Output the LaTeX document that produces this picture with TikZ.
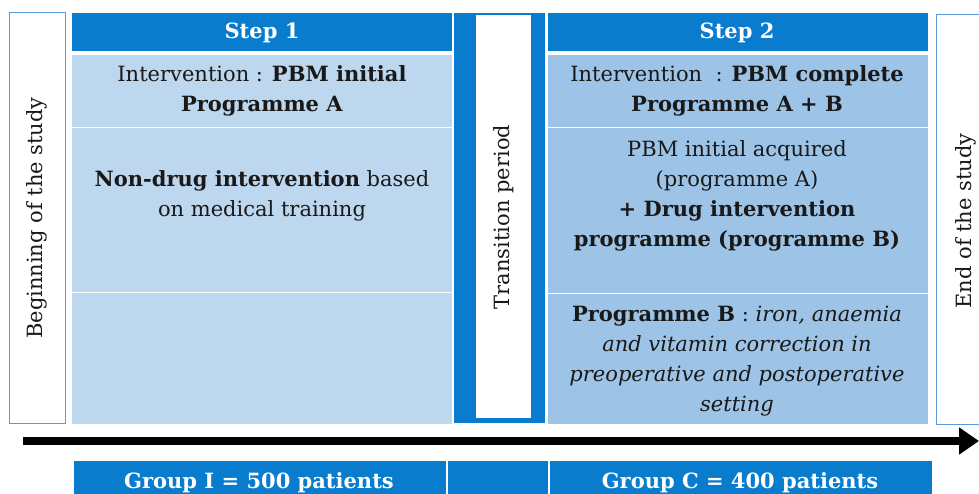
\documentclass[tikz,border=0pt]{standalone}
\usepackage{fontspec}
\setmainfont{DejaVu Serif}
\usetikzlibrary{arrows.meta}
\definecolor{dblue}{HTML}{0A7CCD}
\definecolor{lblue}{HTML}{BDD7EE}
\definecolor{mblue}{HTML}{9DC3E6}
\definecolor{eblue}{HTML}{5B9BD5}
\tikzset{
 cell/.style={draw=white, line width=1pt, anchor=north west, inner sep=0pt},
 sidebox/.style={draw=eblue, fill=white, line width=0.8pt, anchor=north west, inner sep=0pt},
 txt/.style={align=center, font=\fontsize{21}{30}\selectfont, inner sep=0pt, text=black!90},
 head/.style={font=\fontsize{21}{30}\selectfont\bfseries, text=white, inner sep=0pt},
 vtxt/.style={rotate=90, font=\fontsize{21}{30}\selectfont, inner sep=0pt, text=black!90},
}
\begin{document}
\begin{tikzpicture}[x=1pt,y=-1pt]
\useasboundingbox (0,0) rectangle (979,494);
\clip (0,0) rectangle (979,494);
% side boxes
\node[sidebox, minimum width=56pt, minimum height=411pt] (beg) at (9,12) {};
\node[sidebox, minimum width=60pt, minimum height=410pt] (endb) at (936,14) {};
% step 1
\node[cell, fill=dblue, minimum width=381pt, minimum height=39pt] (s1h) at (71,12) {};
\node[cell, fill=lblue, minimum width=381pt, minimum height=73pt] (s1a) at (71,54) {};
\node[cell, fill=lblue, minimum width=381pt, minimum height=165pt] (s1b) at (71,127) {};
\node[cell, fill=lblue, minimum width=381pt, minimum height=132pt] (s1c) at (71,292) {};
% transition
\node[cell, fill=dblue, minimum width=92pt, minimum height=411pt] (tr) at (453,12) {};
\node[anchor=north west, fill=white, inner sep=0pt, minimum width=55pt, minimum height=403pt] (trw) at (476,15) {};
% step 2
\node[cell, fill=dblue, minimum width=381pt, minimum height=39pt] (s2h) at (547,12) {};
\node[cell, fill=mblue, minimum width=381pt, minimum height=73pt] (s2a) at (547,54) {};
\node[cell, fill=mblue, minimum width=381pt, minimum height=166pt] (s2b) at (547,127) {};
\node[cell, fill=mblue, minimum width=381pt, minimum height=131pt] (s2c) at (547,293) {};
% groups
\node[cell, fill=dblue, minimum width=373pt, minimum height=50pt] (gI) at (73,460) {};
\node[cell, fill=dblue, minimum width=101pt, minimum height=50pt] (gM) at (447,460) {};
\node[cell, fill=dblue, minimum width=383pt, minimum height=50pt] (gC) at (549,460) {};
% texts
\node[head] (t1) at (262,33) {Step 1};
\node[head] (t2) at (737,33) {Step 2};
\node[txt] (t1a) at (262,91) {Intervention : \textbf{PBM initial}\\\textbf{Programme A}};
\node[txt] (t1b) at (262,196) {\textbf{Non-drug intervention} based\\on medical training};
\node[txt] (t2a) at (737,91) {Intervention\ \ : \textbf{PBM complete}\\\textbf{Programme A + B}};
\node[txt] (t2b) at (737,196) {PBM initial acquired\\(programme A)\\\textbf{+ Drug intervention}\\\textbf{programme (programme B)}};
\node[txt] (t2c) at (737,361) {\textbf{Programme B} : \textit{iron, anaemia}\\\textit{and vitamin correction in}\\\textit{preoperative and postoperative}\\\textit{setting}};
\node[vtxt] (tb) at (37,218) {Beginning of the study};
\node[vtxt] (tt) at (504,217) {Transition period};
\node[vtxt] (te) at (966,221) {End of the study};
\node[head] (gIt) at (259,483) {Group I = 500 patients};
\node[head] (gCt) at (740,483) {Group C = 400 patients};
% arrow
\coordinate (as) at (23,441);
\coordinate (ae) at (979,441);
\draw[line width=8pt, -{Triangle[length=20pt,width=26pt]}] (as) -- (ae);
\end{tikzpicture}
\end{document}
